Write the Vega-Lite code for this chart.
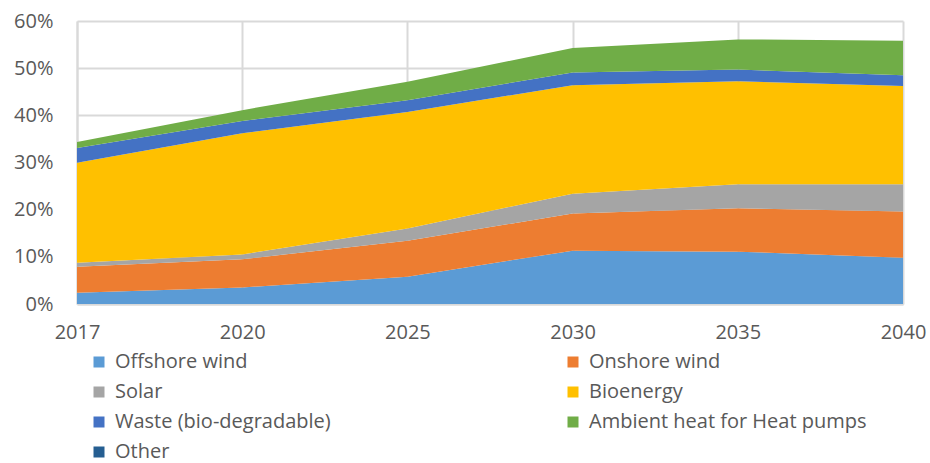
{
  "$schema": "https://vega.github.io/schema/vega-lite/v6.json",
  "width": 826,
  "height": 283,
  "autosize": {"type": "none"},
  "padding": {"left": 77, "top": 21, "right": 27, "bottom": 159},
  "background": "white",
  "config": {
    "font": "Open Sans",
    "view": {"stroke": null},
    "axis": {"labelFont": "Open Sans", "labelFontSize": 20, "labelColor": "#595959"},
    "legend": {"labelFont": "Open Sans", "labelFontSize": 20, "labelColor": "#595959"}
  },
  "data": {
    "values": [
      {"year": "2017", "source": "Offshore wind", "share": 2.4},
      {"year": "2017", "source": "Onshore wind", "share": 5.5},
      {"year": "2017", "source": "Solar", "share": 0.85},
      {"year": "2017", "source": "Bioenergy", "share": 21.2},
      {"year": "2017", "source": "Waste (bio-degradable)", "share": 3.1},
      {"year": "2017", "source": "Ambient heat for Heat pumps", "share": 1.3},
      {"year": "2017", "source": "Other", "share": 0},
      {"year": "2020", "source": "Offshore wind", "share": 3.5},
      {"year": "2020", "source": "Onshore wind", "share": 6.0},
      {"year": "2020", "source": "Solar", "share": 1.0},
      {"year": "2020", "source": "Bioenergy", "share": 25.7},
      {"year": "2020", "source": "Waste (bio-degradable)", "share": 2.6},
      {"year": "2020", "source": "Ambient heat for Heat pumps", "share": 2.3},
      {"year": "2020", "source": "Other", "share": 0},
      {"year": "2025", "source": "Offshore wind", "share": 5.8},
      {"year": "2025", "source": "Onshore wind", "share": 7.6},
      {"year": "2025", "source": "Solar", "share": 2.6},
      {"year": "2025", "source": "Bioenergy", "share": 24.7},
      {"year": "2025", "source": "Waste (bio-degradable)", "share": 2.5},
      {"year": "2025", "source": "Ambient heat for Heat pumps", "share": 3.9},
      {"year": "2025", "source": "Other", "share": 0},
      {"year": "2030", "source": "Offshore wind", "share": 11.3},
      {"year": "2030", "source": "Onshore wind", "share": 7.9},
      {"year": "2030", "source": "Solar", "share": 4.2},
      {"year": "2030", "source": "Bioenergy", "share": 23.0},
      {"year": "2030", "source": "Waste (bio-degradable)", "share": 2.7},
      {"year": "2030", "source": "Ambient heat for Heat pumps", "share": 5.2},
      {"year": "2030", "source": "Other", "share": 0},
      {"year": "2035", "source": "Offshore wind", "share": 11.1},
      {"year": "2035", "source": "Onshore wind", "share": 9.2},
      {"year": "2035", "source": "Solar", "share": 5.1},
      {"year": "2035", "source": "Bioenergy", "share": 21.8},
      {"year": "2035", "source": "Waste (bio-degradable)", "share": 2.5},
      {"year": "2035", "source": "Ambient heat for Heat pumps", "share": 6.4},
      {"year": "2035", "source": "Other", "share": 0},
      {"year": "2040", "source": "Offshore wind", "share": 9.8},
      {"year": "2040", "source": "Onshore wind", "share": 9.8},
      {"year": "2040", "source": "Solar", "share": 5.8},
      {"year": "2040", "source": "Bioenergy", "share": 20.8},
      {"year": "2040", "source": "Waste (bio-degradable)", "share": 2.3},
      {"year": "2040", "source": "Ambient heat for Heat pumps", "share": 7.3},
      {"year": "2040", "source": "Other", "share": 0}
    ]
  },
  "transform": [
    {"calculate": "indexof(['Offshore wind','Onshore wind','Solar','Bioenergy','Waste (bio-degradable)','Ambient heat for Heat pumps','Other'], datum.source)", "as": "stackOrder"}
  ],
  "mark": {"type": "area", "interpolate": "linear"},
  "encoding": {
    "x": {
      "field": "year",
      "type": "ordinal",
      "scale": {"type": "point", "padding": 0},
      "axis": {
        "title": null,
        "labelAngle": 0,
        "ticks": false,
        "labelPadding": 18,
        "domainColor": "#d9d9d9",
        "domainWidth": 2,
        "grid": true,
        "gridColor": "#d9d9d9",
        "gridWidth": 2
      }
    },
    "y": {
      "field": "share",
      "type": "quantitative",
      "stack": "zero",
      "scale": {"domain": [0, 60], "nice": false},
      "axis": {
        "title": null,
        "values": [0, 10, 20, 30, 40, 50, 60],
        "labelExpr": "datum.value + '%'",
        "ticks": false,
        "labelPadding": 24,
        "domain": true,
        "domainColor": "#d9d9d9",
        "domainWidth": 2,
        "grid": true,
        "gridColor": "#d9d9d9",
        "gridWidth": 2
      }
    },
    "color": {
      "field": "source",
      "type": "nominal",
      "sort": ["Offshore wind", "Onshore wind", "Solar", "Bioenergy", "Waste (bio-degradable)", "Ambient heat for Heat pumps", "Other"],
      "scale": {
        "domain": ["Offshore wind", "Onshore wind", "Solar", "Bioenergy", "Waste (bio-degradable)", "Ambient heat for Heat pumps", "Other"],
        "range": ["#5B9BD5", "#ED7D31", "#A5A5A5", "#FFC000", "#4472C4", "#70AD47", "#255E91"]
      },
      "legend": {
        "title": null,
        "orient": "none",
        "legendX": 12,
        "legendY": 331,
        "direction": "horizontal",
        "columns": 2,
        "columnPadding": 232,
        "rowPadding": 10,
        "symbolType": "square",
        "symbolSize": 121,
        "symbolStrokeWidth": 0,
        "labelOffset": 6,
        "labelLimit": 400
      }
    },
    "order": {"field": "stackOrder", "type": "quantitative", "sort": "ascending"}
  }
}
